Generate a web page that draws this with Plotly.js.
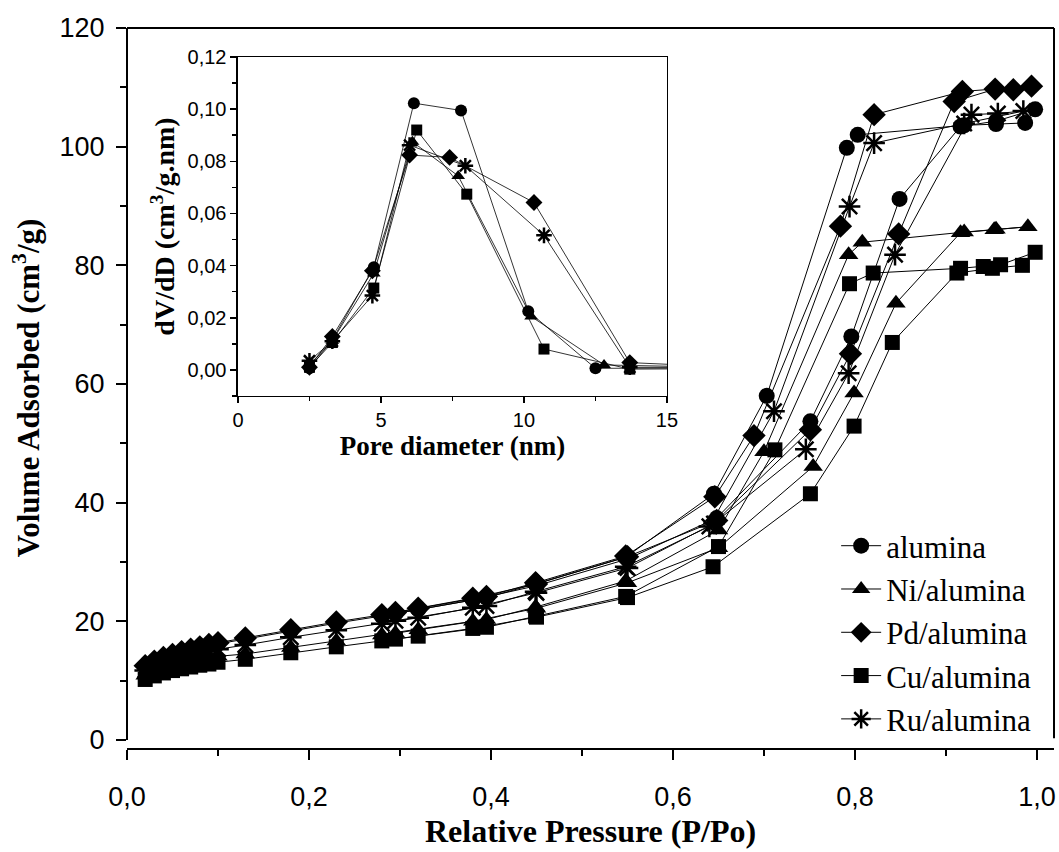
<!DOCTYPE html>
<html>
<head>
<meta charset="utf-8">
<script src="https://cdn.plot.ly/plotly-3.0.1.min.js"></script>
<style>html,body{margin:0;padding:0;background:#fff}#chart{width:1059px;height:852px}</style>
</head>
<body>
<div id="chart"></div>
<script>
// ---------- Main isotherms (adsorption then desorption) ----------
const seriesNames = ["alumina", "Ni/alumina", "Pd/alumina", "Cu/alumina", "Ru/alumina"];
const seriesSymbols = ["circle", "triangle-up", "diamond", "square", "asterisk-open"];

const P_alumina = [0.02,0.03,0.04,0.05,0.06,0.07,0.08,0.09,0.10,0.13,0.18,0.23,0.28,0.32,0.38,0.45,0.55,0.648,0.751,0.796,0.849,0.916,0.955,0.998,
                   0.987,0.955,0.920,0.803,0.791,0.703,0.645,0.548,0.449,0.395,0.295];
const V_alumina = [12.3,13.1,13.7,14.2,14.7,15.1,15.5,15.9,16.2,17.0,18.4,19.7,20.9,22.0,23.6,26.0,30.5,37.4,53.7,68.0,91.2,103.4,104.3,106.3,
                   104.0,103.8,103.6,102.0,99.8,58.0,41.5,30.8,26.3,24.0,21.3];

const P_Ni = [0.02,0.03,0.04,0.05,0.06,0.07,0.08,0.09,0.10,0.13,0.18,0.23,0.28,0.32,0.38,0.45,0.55,0.650,0.754,0.799,0.845,0.916,0.953,0.990,
              0.955,0.920,0.808,0.793,0.700,0.650,0.548,0.449,0.395,0.295];
const V_Ni = [10.9,11.6,12.1,12.5,12.9,13.2,13.5,13.8,14.1,14.5,15.6,16.7,17.7,18.6,20.0,22.2,26.5,32.4,46.1,58.5,73.6,85.5,86.0,86.5,
              86.1,85.6,83.9,81.8,48.6,35.4,26.8,22.4,20.3,18.0];

const P_Pd = [0.02,0.03,0.04,0.05,0.06,0.07,0.08,0.09,0.10,0.13,0.18,0.23,0.28,0.32,0.38,0.45,0.55,0.648,0.751,0.795,0.848,0.909,0.954,0.974,0.994,
              0.918,0.821,0.784,0.689,0.646,0.548,0.449,0.395,0.295];
const V_Pd = [12.5,13.3,13.9,14.4,14.9,15.3,15.7,16.1,16.4,17.2,18.6,19.9,21.1,22.2,23.9,26.3,30.9,37.0,52.3,65.1,85.3,107.6,109.7,109.6,110.2,
              109.3,105.4,86.6,51.3,41.0,31.0,26.5,24.2,21.5];

const P_Cu = [0.02,0.03,0.04,0.05,0.06,0.07,0.08,0.09,0.10,0.13,0.18,0.23,0.28,0.32,0.38,0.45,0.55,0.644,0.751,0.799,0.841,0.912,0.951,0.984,0.998,
              0.960,0.941,0.916,0.820,0.794,0.712,0.650,0.548,0.449,0.395,0.295];
const V_Cu = [10.2,10.8,11.3,11.7,12.0,12.3,12.6,12.8,13.1,13.6,14.7,15.7,16.7,17.5,18.8,20.7,24.0,29.2,41.5,52.9,67.0,78.7,79.5,80.0,82.2,
              80.1,79.8,79.5,78.7,76.9,48.9,32.6,24.2,20.9,19.0,17.0];

const P_Ru = [0.02,0.03,0.04,0.05,0.06,0.07,0.08,0.09,0.10,0.13,0.18,0.23,0.28,0.32,0.38,0.45,0.55,0.645,0.746,0.793,0.844,0.928,0.957,0.985,
              0.920,0.821,0.794,0.711,0.640,0.548,0.449,0.395,0.295];
const V_Ru = [11.7,12.4,13.0,13.5,13.9,14.3,14.7,15.0,15.3,16.0,17.3,18.5,19.6,20.6,22.3,24.8,29.0,36.5,49.0,61.8,81.8,105.4,105.6,106.0,
              103.9,100.6,89.9,55.4,36.0,29.2,25.0,22.6,20.1];

// ---------- Inset: pore size distribution ----------
const D_alumina = [2.5,3.3,4.75,6.15,7.8,10.15,12.5,17];
const dV_alumina = [0.0006,0.0115,0.0394,0.1023,0.0995,0.0225,0.0006,0.0008];
const D_Ni = [2.5,3.3,4.75,6.1,7.7,10.25,12.8,17];
const dV_Ni = [0.0020,0.0112,0.0370,0.0875,0.0744,0.0205,0.0019,0.0010];
const D_Pd = [2.5,3.3,4.7,6.0,7.4,10.35,13.7,17];
const dV_Pd = [0.0010,0.0128,0.0380,0.0824,0.0815,0.0642,0.0028,0.0012];
const D_Cu = [2.5,3.3,4.75,6.25,8.0,10.7,13.7,17];
const dV_Cu = [0.0010,0.0105,0.0314,0.0920,0.0674,0.0080,0.0003,0.0005];
const D_Ru = [2.5,3.3,4.7,6.0,7.95,10.7,13.7,17];
const dV_Ru = [0.0035,0.0110,0.0285,0.0862,0.0783,0.0516,0.0010,0.0010];

const mainX = [P_alumina, P_Ni, P_Pd, P_Cu, P_Ru];
const mainY = [V_alumina, V_Ni, V_Pd, V_Cu, V_Ru];
const insetX = [D_alumina, D_Ni, D_Pd, D_Cu, D_Ru];
const insetY = [dV_alumina, dV_Ni, dV_Pd, dV_Cu, dV_Ru];

const mainSizes = [16, 17, 18, 15, 18];
const insetSizes = [12, 12, 13, 11, 13];

function markerFor(sym, size) {
  if (sym === "asterisk-open") {
    return {symbol: sym, size: size, color: "black", line: {color: "black", width: 2.5}};
  }
  return {symbol: sym, size: size, color: "black", line: {width: 0}};
}

const traces = [];
for (let i = 0; i < seriesNames.length; i++) {
  traces.push({
    x: mainX[i], y: mainY[i], name: seriesNames[i], type: "scatter", mode: "lines+markers",
    line: {color: "black", width: 1}, marker: markerFor(seriesSymbols[i], mainSizes[i]),
    xaxis: "x", yaxis: "y"
  });
}
for (let i = 0; i < seriesNames.length; i++) {
  traces.push({
    x: insetX[i], y: insetY[i], name: seriesNames[i], type: "scatter", mode: "lines+markers",
    line: {color: "black", width: 0.8},
    marker: markerFor(seriesSymbols[i], insetSizes[i]),
    xaxis: "x2", yaxis: "y2", showlegend: false
  });
}

const yMainRange = [-1.35, 120];
const tickFont = {family: "Liberation Sans, Arial, sans-serif", size: 27, color: "black"};
const serif = "Liberation Serif, Times New Roman, serif";

const layout = {
  width: 1059, height: 852,
  margin: {l: 127, r: 5, t: 28, b: 104},
  paper_bgcolor: "white", plot_bgcolor: "white",
  separators: ", ",
  showlegend: true,
  legend: {
    x: 0.765, y: 0.318, xanchor: "left", yanchor: "top",
    font: {family: serif, size: 31, color: "black"},
    bgcolor: "rgba(0,0,0,0)", traceorder: "normal", itemwidth: 40
  },
  xaxis: {
    domain: [0, 1], range: [0, 1.0187], tick0: 0, dtick: 0.2, tickformat: ".1f",
    ticks: "outside", ticklen: 10, tickwidth: 2, tickcolor: "black",
    minor: {dtick: 0.1, ticks: "outside", ticklen: 6, tickwidth: 2, tickcolor: "black"},
    showline: true, linewidth: 2, linecolor: "black", showgrid: false, zeroline: false,
    tickfont: tickFont, automargin: false, ticklabelstandoff: 14,
    title: {text: "Relative Pressure (P/Po)", font: {family: serif, size: 32, color: "black", weight: "bold"}, standoff: 8}
  },
  yaxis: {
    domain: [0, 1], range: yMainRange, tick0: 0, dtick: 20,
    ticks: "outside", ticklen: 10, tickwidth: 2, tickcolor: "black",
    minor: {dtick: 10, ticks: "outside", ticklen: 6, tickwidth: 2, tickcolor: "black"},
    showline: false, showgrid: false, zeroline: false,
    tickfont: tickFont, automargin: false, ticklabelstandoff: 6,
    title: {text: "Volume Adsorbed (cm<sup>3</sup>/g)", font: {family: serif, size: 31, color: "black", weight: "bold"}, standoff: 10}
  },
  xaxis2: {
    domain: [0.1197, 0.5825], anchor: "y2", range: [0, 15], tick0: 0, dtick: 5,
    ticks: "outside", ticklen: 6, tickwidth: 1.5, tickcolor: "black",
    minor: {dtick: 2.5, ticks: "outside", ticklen: 4, tickwidth: 1.5, tickcolor: "black"},
    showline: true, mirror: true, linewidth: 1.5, linecolor: "black",
    showgrid: false, zeroline: false,
    tickfont: {family: "Liberation Sans, Arial, sans-serif", size: 20, color: "black"},
    title: {text: "Pore diameter (nm)", font: {family: serif, size: 27, color: "black", weight: "bold"}, standoff: 4}
  },
  yaxis2: {
    domain: [0.4889, 0.9597], anchor: "x2", range: [-0.01, 0.12], tick0: 0, dtick: 0.02, tickformat: ".2f",
    ticks: "outside", ticklen: 6, tickwidth: 1.5, tickcolor: "black",
    minor: {dtick: 0.01, ticks: "outside", ticklen: 4, tickwidth: 1.5, tickcolor: "black"},
    showline: true, mirror: true, linewidth: 1.5, linecolor: "black",
    showgrid: false, zeroline: false,
    tickfont: {family: "Liberation Sans, Arial, sans-serif", size: 20, color: "black"},
    title: {text: "dV/dD (cm<sup>3</sup>/g.nm)", font: {family: serif, size: 28, color: "black", weight: "bold"}, standoff: 4}
  },
  shapes: [
    {type: "line", xref: "paper", yref: "y", x0: 0, x1: 0, y0: 0, y1: yMainRange[1], line: {color: "black", width: 2}},
    {type: "line", xref: "paper", yref: "paper", x0: 0, x1: 1, y0: 1, y1: 1, line: {color: "black", width: 2}},
    {type: "line", xref: "paper", yref: "y", x0: 1, x1: 1, y0: 0.3, y1: yMainRange[1], line: {color: "black", width: 2}}
  ]
};

Plotly.newPlot("chart", traces, layout, {displayModeBar: false, staticPlot: true});
</script>
</body>
</html>
